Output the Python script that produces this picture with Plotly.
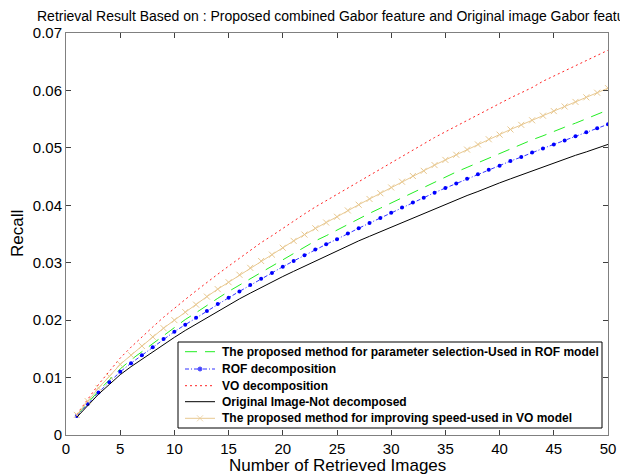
import plotly.graph_objects as go

# Number of retrieved images
n_retrieved = list(range(1, 51))

# Recall curves for each method
recall_param_rof = [0.0034, 0.0056, 0.0077, 0.0096, 0.0115, 0.0131, 0.0145, 0.0160, 0.0174, 0.0188,
                    0.0201, 0.0213, 0.0226, 0.0238, 0.0250, 0.0261, 0.0273, 0.0284, 0.0295, 0.0306,
                    0.0317, 0.0327, 0.0338, 0.0347, 0.0357, 0.0367, 0.0376, 0.0386, 0.0395, 0.0404,
                    0.0414, 0.0423, 0.0432, 0.0441, 0.0449, 0.0458, 0.0466, 0.0474, 0.0483, 0.0490,
                    0.0498, 0.0506, 0.0514, 0.0521, 0.0529, 0.0536, 0.0543, 0.0551, 0.0558, 0.0566]

recall_rof = [0.0033, 0.0054, 0.0074, 0.0092, 0.0110, 0.0125, 0.0139, 0.0153, 0.0167, 0.0180,
              0.0192, 0.0204, 0.0216, 0.0228, 0.0239, 0.0250, 0.0261, 0.0272, 0.0282, 0.0293,
              0.0303, 0.0313, 0.0323, 0.0332, 0.0341, 0.0351, 0.0360, 0.0369, 0.0378, 0.0387,
              0.0396, 0.0405, 0.0413, 0.0422, 0.0430, 0.0438, 0.0446, 0.0454, 0.0462, 0.0469,
              0.0477, 0.0484, 0.0492, 0.0499, 0.0506, 0.0513, 0.0520, 0.0527, 0.0534, 0.0541]

recall_vo = [0.0036, 0.0062, 0.0088, 0.0111, 0.0134, 0.0153, 0.0171, 0.0188, 0.0205, 0.0221,
             0.0236, 0.0251, 0.0266, 0.0280, 0.0294, 0.0308, 0.0321, 0.0335, 0.0347, 0.0360,
             0.0373, 0.0385, 0.0397, 0.0408, 0.0419, 0.0431, 0.0442, 0.0453, 0.0464, 0.0475,
             0.0486, 0.0497, 0.0507, 0.0518, 0.0528, 0.0538, 0.0548, 0.0558, 0.0568, 0.0577,
             0.0587, 0.0596, 0.0605, 0.0616, 0.0625, 0.0634, 0.0643, 0.0652, 0.0661, 0.0670]

recall_original = [0.0031, 0.0051, 0.0071, 0.0088, 0.0105, 0.0119, 0.0132, 0.0145, 0.0158, 0.0170,
                   0.0182, 0.0193, 0.0205, 0.0216, 0.0226, 0.0237, 0.0247, 0.0257, 0.0266, 0.0276,
                   0.0285, 0.0294, 0.0303, 0.0312, 0.0320, 0.0329, 0.0338, 0.0346, 0.0354, 0.0362,
                   0.0370, 0.0378, 0.0386, 0.0394, 0.0402, 0.0409, 0.0417, 0.0424, 0.0432, 0.0439,
                   0.0446, 0.0453, 0.0460, 0.0467, 0.0473, 0.0480, 0.0487, 0.0493, 0.0500, 0.0506]

recall_speed_vo = [0.0035, 0.0059, 0.0082, 0.0102, 0.0123, 0.0139, 0.0155, 0.0171, 0.0186, 0.0200,
                   0.0214, 0.0227, 0.0241, 0.0254, 0.0266, 0.0279, 0.0291, 0.0303, 0.0314, 0.0326,
                   0.0338, 0.0349, 0.0360, 0.0370, 0.0380, 0.0391, 0.0401, 0.0411, 0.0421, 0.0431,
                   0.0441, 0.0451, 0.0460, 0.0470, 0.0479, 0.0488, 0.0497, 0.0506, 0.0515, 0.0523,
                   0.0532, 0.0540, 0.0548, 0.0556, 0.0564, 0.0572, 0.0580, 0.0588, 0.0596, 0.0604]

series_names = [
    "The proposed method for parameter selection-Used in ROF model",
    "ROF decomposition",
    "VO decomposition",
    "Original Image-Not decomposed",
    "The proposed method for improving speed-used in VO model",
]

x_ticks = [0, 5, 10, 15, 20, 25, 30, 35, 40, 45, 50]
y_ticks = [0, 0.01, 0.02, 0.03, 0.04, 0.05, 0.06, 0.07]
y_tick_text = ["0", "0.01", "0.02", "0.03", "0.04", "0.05", "0.06", "0.07"]

FONT = "Liberation Sans, Arial, sans-serif"
W, H = 620, 475
M_L, M_R, M_T, M_B = 66, 12, 33, 40
PLOT_W, PLOT_H = W - M_L - M_R, H - M_T - M_B


def px_to_paper(px, py):
    return (px - M_L) / PLOT_W, 1 - (py - M_T) / PLOT_H


# Per-series styling: (line colour, dash, marker symbol or None, marker colour)
styles = [
    ("#22EE22", "12px,8px", None, None),
    ("#3333FF", "4px,2px,1px,2px", "circle", "#0000FF"),
    ("#FF2222", "2px,3px", None, None),
    ("#000000", "solid", None, None),
    ("#E8C890", "solid", "x-thin", "#E8C890"),
]
series_values = [recall_param_rof, recall_rof, recall_vo, recall_original, recall_speed_vo]

fig = go.Figure()


def marker_spec(symbol, color):
    if symbol == "circle":
        return dict(symbol="circle", size=4, color=color)
    return dict(symbol=symbol, size=6, line=dict(color=color, width=1))


for name, vals, (col, dash, sym, mcol) in zip(series_names, series_values, styles):
    fig.add_trace(go.Scatter(
        x=n_retrieved, y=vals, name=name,
        mode="lines+markers" if sym else "lines",
        line=dict(color=col, width=1, dash=dash),
        marker=marker_spec(sym, mcol) if sym else None,
        showlegend=False,
    ))

# Boxed legend, laid out in pixel units on a hidden overlay axis pair
LEG_BOX = (178, 342, 602, 428)
LEG_ROWS = [351.7, 369.0, 385.7, 401.7, 418.3]
LEG_LINE_X = (185, 215)
LEG_TEXT_X = 220

shapes = [dict(type="rect", xref="x2", yref="y2",
               x0=LEG_BOX[0], y0=LEG_BOX[1], x1=LEG_BOX[2], y1=LEG_BOX[3],
               line=dict(color="#000", width=1), fillcolor="rgba(0,0,0,0)", layer="above")]
annotations = []
mk_x, mk_y, mk_sym, mk_col, mk_size = [], [], [], [], []
for name, ry, (col, dash, sym, mcol) in zip(series_names, LEG_ROWS, styles):
    shapes.append(dict(type="line", xref="x2", yref="y2",
                       x0=LEG_LINE_X[0], x1=LEG_LINE_X[1], y0=ry, y1=ry,
                       line=dict(color=col, width=1, dash=dash), layer="above"))
    annotations.append(dict(xref="x2", yref="y2", x=LEG_TEXT_X, y=ry, text=name,
                            showarrow=False, xanchor="left", yanchor="middle",
                            font=dict(family=FONT, size=12, color="#000", weight="bold")))
    if sym:
        mk_x.append((LEG_LINE_X[0] + LEG_LINE_X[1]) / 2)
        mk_y.append(ry)
        mk_sym.append(sym)
        mk_col.append(mcol)
        mk_size.append(4 if sym == "circle" else 6)

fig.add_trace(go.Scatter(
    x=mk_x, y=mk_y, xaxis="x2", yaxis="y2", mode="markers", showlegend=False,
    hoverinfo="skip", cliponaxis=False,
    marker=dict(symbol=mk_sym, size=mk_size, color=mk_col, line=dict(color=mk_col, width=1)),
))

# Axis titles, positioned in paper units outside the plot area
xt_x, xt_y = px_to_paper((M_L + W - M_R) / 2, 465)
yt_x, yt_y = px_to_paper(17, 234)
annotations.append(dict(xref="paper", yref="paper", x=xt_x, y=xt_y,
                        text="Number of Retrieved Images", showarrow=False,
                        xanchor="center", yanchor="middle",
                        font=dict(family=FONT, size=17, color="#000")))
annotations.append(dict(xref="paper", yref="paper", x=yt_x, y=yt_y, text="Recall", textangle=-90,
                        showarrow=False, xanchor="center", yanchor="middle",
                        font=dict(family=FONT, size=17, color="#000")))

axis_common = dict(
    showgrid=False, zeroline=False, showline=True, linecolor="#808080", linewidth=1,
    mirror="ticks", ticks="inside", ticklen=5, tickcolor="#404040", automargin=False,
    tickfont=dict(family=FONT, size=15, color="#000000"),
)

fig.update_layout(
    width=W, height=H,
    margin=dict(l=M_L, r=M_R, t=M_T, b=M_B),
    paper_bgcolor="white", plot_bgcolor="white",
    xaxis=dict(range=[0, 50], tickvals=x_ticks, **axis_common),
    yaxis=dict(range=[0, 0.07], tickvals=y_ticks, ticktext=y_tick_text, **axis_common),
    xaxis2=dict(overlaying="x", anchor="y", range=[M_L, W - M_R], visible=False,
                fixedrange=True, automargin=False),
    yaxis2=dict(overlaying="y", anchor="x", range=[H - M_B, M_T], visible=False,
                fixedrange=True, automargin=False),
    title=dict(
        text="Retrieval Result Based on : Proposed combined Gabor feature and Original image Gabor feature",
        x=0.5, xref="paper", xanchor="center", y=0.967, yanchor="middle",
        font=dict(family=FONT, size=14, color="#000"), automargin=False,
    ),
    shapes=shapes,
    annotations=annotations,
    showlegend=False,
)

fig.write_html("out.html")
